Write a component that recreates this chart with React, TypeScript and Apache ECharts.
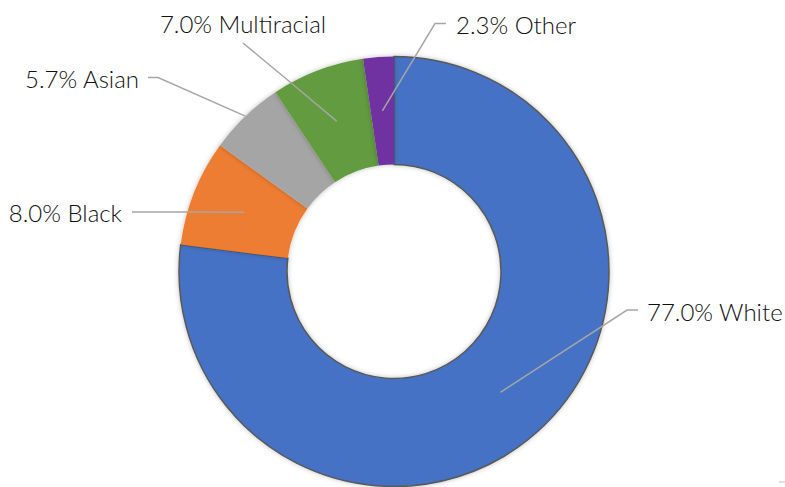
import React, { useEffect, useRef } from "react";
import * as echarts from "echarts";

const categories = ["White", "Black", "Asian", "Multiracial", "Other"];
const values = [77.0, 8.0, 5.7, 7.0, 2.3];
const colors = ["#4472C4", "#ED7D31", "#A5A5A5", "#629B3F", "#7030A0"];

const CX = 394;
const CY = 271.5;
const R_IN = 107;
const R_OUT = 215;

// where each leader line touches its slice: 0 = inner edge, 1 = outer edge
const anchorFrac = [0.5, 0.5, 1, 0.5, 0.5];
// label placement (text anchor + leader elbow points)
const labelX = [647, 122, 139, 243, 456];
const labelY = [311, 212, 78, 23, 24];
const labelAlign = ["left", "right", "right", "center", "left"];
const elbowA = [[627, 310], [188, 212], [158, 77.5], [290, 82], [435, 23.5]];
const elbowB = [[638, 310], [132, 212], [148, 77.5], [243, 43], [446, 23.5]];

function anchorPoint(i: number): number[] {
  const total = values.reduce((a, b) => a + b, 0);
  let before = 0;
  for (let k = 0; k < i; k++) before += values[k];
  const mid = (before + values[i] / 2) / total;
  const theta = mid * Math.PI * 2;
  const r = R_IN + (R_OUT - R_IN) * anchorFrac[i];
  return [CX + r * Math.sin(theta), CY - r * Math.cos(theta)];
}

export default function App() {
  const ref = useRef<HTMLDivElement>(null);
  useEffect(() => {
    if (!ref.current) return;
    const chart = echarts.init(ref.current, null, { renderer: "svg" });
    const base = {
      type: "pie",
      center: [CX, CY],
      radius: [R_IN, R_OUT],
      startAngle: 90,
      clockwise: true,
      avoidLabelOverlap: false,
      silent: true,
    };
    chart.setOption({
      animation: false,
      backgroundColor: "#ffffff",
      series: [
        {
          ...base,
          z: 2,
          data: categories.map((c, i) => ({
            name: c,
            value: values[i],
            itemStyle:
              i === 0
                ? { color: colors[i], borderColor: "#595959", borderWidth: 1.5 }
                : { color: colors[i], borderWidth: 0 },
          })),
          itemStyle: {
            shadowBlur: 5,
            shadowColor: "rgba(0,0,0,0.25)",
          },
          label: { show: false },
          labelLine: { show: false },
        },
        {
          ...base,
          z: 5,
          data: categories.map((c, i) => ({ name: c, value: values[i] })),
          itemStyle: { color: "rgba(0,0,0,0)", borderWidth: 0 },
          label: {
            show: true,
            position: "outside",
            fontFamily: "Lato",
            fontWeight: 300,
            fontSize: 24,
            color: "#111111",
            formatter: (p: any) => `${p.value.toFixed(1)}% ${p.name}`,
          },
          labelLine: {
            show: true,
            smooth: false,
            lineStyle: { color: "#A6A6A6", width: 1.5 },
          },
          labelLayout: (params: any) => {
            const i = params.dataIndex;
            return {
              x: labelX[i],
              y: labelY[i],
              align: labelAlign[i],
              verticalAlign: "middle",
              labelLinePoints: [anchorPoint(i), elbowA[i], elbowB[i]],
            };
          },
        },
      ],
      graphic: [
        {
          type: "line",
          shape: { x1: 779, y1: 482, x2: 785, y2: 482 },
          style: { stroke: "#BFBFBF", lineWidth: 1 },
          silent: true,
        },
      ],
    });
    return () => chart.dispose();
  }, []);
  return (
    <div
      ref={ref}
      style={{ position: "absolute", left: 0, top: 0, width: 785, height: 487 }}
    />
  );
}
